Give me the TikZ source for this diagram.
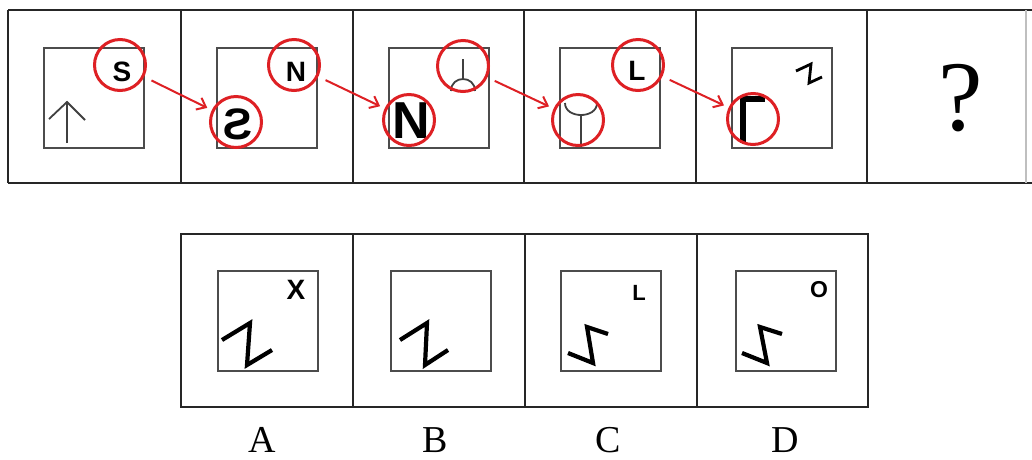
\documentclass[tikz,border=0pt]{standalone}
\usepackage{fontspec}
\setmainfont{Liberation Serif}
\newfontfamily\lsans{Liberation Sans}
\usetikzlibrary{arrows.meta}
\definecolor{ringred}{RGB}{222,32,36}
\begin{document}
\begin{tikzpicture}[x=1pt,y=-1pt,
  frame/.style={line width=2.8pt, draw=black!85},
  inbox/.style={line width=2pt, draw=black!70},
  ring/.style={circle, draw=ringred, line width=3pt, minimum size=51pt, inner sep=0pt},
  link/.style={draw=ringred, line width=2pt, -{Straight Barb[length=8pt,width=13pt,line width=2pt]}, shorten <=8pt, shorten >=5pt},
  glyph/.style={inner sep=0pt, font=\lsans\bfseries\fontsize{28}{30}\selectfont},
  thinsym/.style={line width=1.8pt, draw=black!75},
  zig/.style={line width=4.2pt, draw=black, line join=miter},
  label/.style={inner sep=0pt, anchor=base, font=\fontsize{38}{40}\selectfont}
]
\useasboundingbox (0,0) rectangle (1032,459);
\fill[white] (0,0) rectangle (1032,459);

% ---------- top row frames ----------
\draw[frame] (8,10) -- (1032,10);
\draw[frame] (8,183) -- (1032,183);
\foreach \x in {8,181,353,524,696,867} \draw[frame] (\x,10) -- (\x,183);
\draw[line width=1.2pt, draw=black!25] (1026,10) -- (1026,183);

% inner squares top
\foreach \x in {44,217,389,560,732} \draw[inbox] (\x,48) rectangle ++(100,100);

% panel 1
\draw[thinsym] (67,143) -- (67,102);
\draw[thinsym] (49,119) -- (67,102) -- (85,120);
\node[glyph] (s1) at (122,72) {S};
\node[ring] (r1) at (120,65) {};

% panel 2
\node[glyph, xscale=-1, font=\lsans\bfseries\fontsize{44}{46}\selectfont] (s2) at (238,124) {S};
\node[ring] (r2a) at (236,122) {};
\node[glyph] (n2) at (296,72) {N};
\node[ring] (r2b) at (294,65) {};

% panel 3
\node[glyph, font=\lsans\bfseries\fontsize{52}{54}\selectfont] (n3) at (411,121) {N};
\node[ring] (r3a) at (409,120) {};
\draw[thinsym] (463,59) -- (463,79);
\draw[thinsym] (451,91) .. controls (451,75) and (475,75) .. (475,91);
\node[ring] (r3b) at (463,66) {};

% panel 4
\draw[thinsym] (565,103) .. controls (565,119) and (597,119) .. (597,103);
\draw[thinsym] (581,115) -- (581,147);
\node[ring] (r4a) at (578,120) {};
\node[glyph] (l4) at (637,71) {L};
\node[ring] (r4b) at (638,65) {};

% panel 5
\draw[line width=5.5pt, draw=black] (743,143) -- (743,99) -- (765,99);
\node[ring] (r5) at (753,119) {};
\draw[line width=2.8pt, draw=black] (796,71) -- (811,64) -- (809,83) -- (822,77);

% panel 6
\node[inner sep=0pt, anchor=base, font=\fontsize{100}{100}\selectfont] (q) at (961,130) {?};

% red arrows
\draw[link] (r1) -- (r2a);
\draw[link] (r2b) -- (r3a);
\draw[link] (r3b) -- (r4a);
\draw[link] (r4b) -- (r5);

% ---------- bottom row ----------
\draw[frame] (181,234) rectangle (868,407);
\foreach \x in {353,525,697} \draw[frame] (\x,234) -- (\x,407);
\draw[inbox] (218,271) rectangle ++(100,100);
\draw[inbox] (391,271) rectangle ++(100,100);
\draw[inbox] (561,271) rectangle ++(100,100);
\draw[inbox] (736,271) rectangle ++(100,100);

% A
\node[glyph] (xa) at (296,290) {X};
\draw[zig] (222,340) -- (250,323) -- (247,365) -- (272,350);
% B
\draw[zig] (400,340) -- (427,323) -- (425,365) -- (448,350);
% C
\node[glyph, font=\lsans\bfseries\fontsize{22}{24}\selectfont] (lc) at (639,293) {L};
\draw[zig] (568,353) -- (593,363) -- (587,327) -- (608,334);
% D
\node[glyph, font=\lsans\bfseries\fontsize{23}{25}\selectfont] (od) at (819,290) {O};
\draw[zig] (742,353) -- (767,363) -- (760,327) -- (782,334);

% labels
\node[label] (la) at (262,452) {A};
\node[label] (lb) at (435,452) {B};
\node[label] (lcc) at (608,452) {C};
\node[label] (ld) at (785,452) {D};
\end{tikzpicture}
\end{document}
